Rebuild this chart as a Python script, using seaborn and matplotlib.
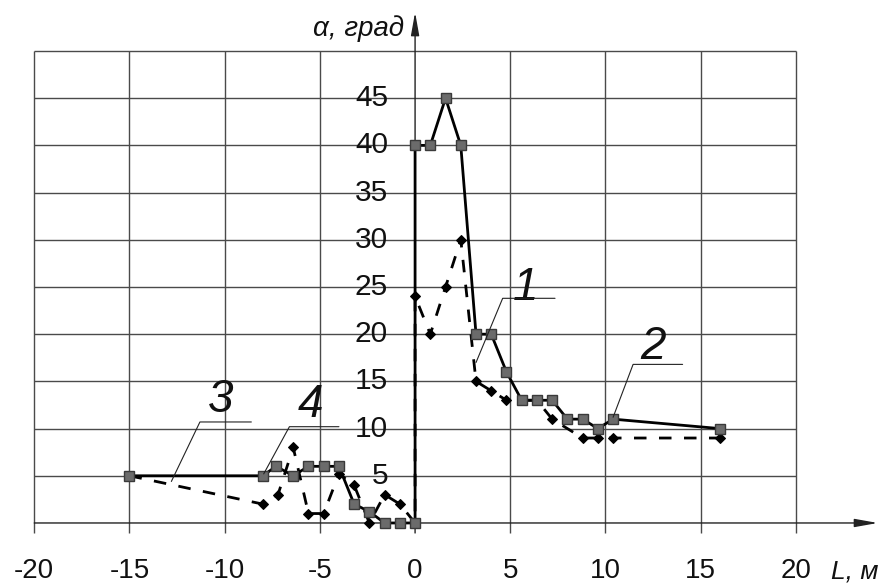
import pandas as pd
import matplotlib
matplotlib.use("Agg")
import matplotlib.pyplot as plt
import seaborn as sns

# curve 1 (squares, solid) and curve 2 (diamonds, dashed)
L1 = [-15, -8, -7.3, -6.4, -5.6, -4.8, -4.0, -3.2, -2.4, -1.6, -0.8, 0, 0,
      0.8, 1.6, 2.4, 3.2, 4.0, 4.8, 5.6, 6.4, 7.2, 8.0, 8.8, 9.6, 10.4, 16]
a1 = [5, 5, 6, 5, 6, 6, 6, 2, 1.2, 0, 0, 0, 40,
      40, 45, 40, 20, 20, 16, 13, 13, 13, 11, 11, 10, 11, 10]

L2 = [-15, -8, -7.2, -6.4, -5.6, -4.8, -4.0, -3.2, -2.4, -1.6, -0.8, 0, 0,
      0.8, 1.6, 2.4, 3.2, 4.0, 4.8, 5.6, 6.4, 7.2, 8.8, 9.6, 10.4, 16]
a2 = [5, 2, 3, 8, 1, 1, 5.2, 4, 0, 3, 2, 0, 24,
      20, 25, 30, 15, 14, 13, 13, 13, 11, 9, 9, 9, 9]

x_ticks = [-20, -15, -10, -5, 0, 5, 10, 15, 20]
y_ticks = [5, 10, 15, 20, 25, 30, 35, 40, 45]

# curve numbers: text position, leader shelf (x0, x1, y), leader end
labels = ["1", "2", "3", "4"]
label_xy = [(5.8, 24.9), (12.5, 18.6), (-10.2, 13.0), (-5.5, 12.5)]
shelf = [(4.6, 7.35, 23.8), (11.45, 14.05, 16.8), (-11.3, -8.6, 10.7), (-6.6, -4.0, 10.2)]
tip = [(3.2, 17.0), (10.4, 11.2), (-12.8, 4.4), (-7.95, 5.2)]

sns.set_style("white")
plt.rcParams['font.family'] = ['Liberation Sans', 'DejaVu Sans']

fig = plt.figure(figsize=(8.85, 5.85), dpi=100)
ax = fig.add_axes([0, 0, 1, 1])
ax.set_xlim(-21.8, 24.68)
ax.set_ylim(-6.57, 55.4)
ax.axis("off")

grid_c = "#4a4a4a"
ax.vlines([t for t in x_ticks if t != 0], -1.06, 50, color=grid_c, lw=1.0, zorder=1)
ax.hlines(y_ticks + [50], -20, 20, color=grid_c, lw=1.0, zorder=1)

# axes with arrows
ax.annotate("", xy=(24.3, 0), xytext=(-20, 0),
            arrowprops=dict(arrowstyle="-|>,head_length=1.4,head_width=0.25",
                            color="#222222", lw=1.0, shrinkA=0, shrinkB=0), zorder=2)
ax.annotate("", xy=(0, 54.1), xytext=(0, -1.06),
            arrowprops=dict(arrowstyle="-|>,head_length=1.4,head_width=0.25",
                            color="#222222", lw=1.0, shrinkA=0, shrinkB=0), zorder=2)

df1 = pd.DataFrame({"L": L1, "a": a1})
df2 = pd.DataFrame({"L": L2, "a": a2})

sns.lineplot(data=df2, x="L", y="a", sort=False, estimator=None, ax=ax,
             color="black", lw=2.0, linestyle=(0, (4.5, 4.5)), marker="D",
             markersize=5.5, markerfacecolor="black", markeredgecolor="black",
             zorder=3)
sns.lineplot(data=df1, x="L", y="a", sort=False, estimator=None, ax=ax,
             color="black", lw=2.0, marker="s", markersize=7.5,
             markerfacecolor="#6b6b6b", markeredgecolor="#3a3a3a",
             markeredgewidth=1.0, zorder=4)

for t in x_ticks:
    ax.text(t, -5.1, str(t), ha="center", va="center", fontsize=20, color="#111111")
for t in y_ticks:
    ax.text(-1.42, t, str(t), ha="right", va="center", fontsize=21.5, color="#111111")

ax.text(23.1, -5.1, "L, м", ha="center", va="center", fontsize=19,
        style="italic", color="#111111")
ax.text(-0.6, 52.4, "α, град", ha="right", va="center", fontsize=20,
        style="italic", color="#111111")

for lab, (tx, ty), (x0, x1, ys), (ex, ey) in zip(labels, label_xy, shelf, tip):
    ax.text(tx, ty, lab, ha="center", va="center", fontsize=33,
            style="italic", color="#111111")
    ax.plot([x1, x0, ex], [ys, ys, ey], color="#222222", lw=0.8, zorder=5)

fig.savefig("out.png", dpi=100)
